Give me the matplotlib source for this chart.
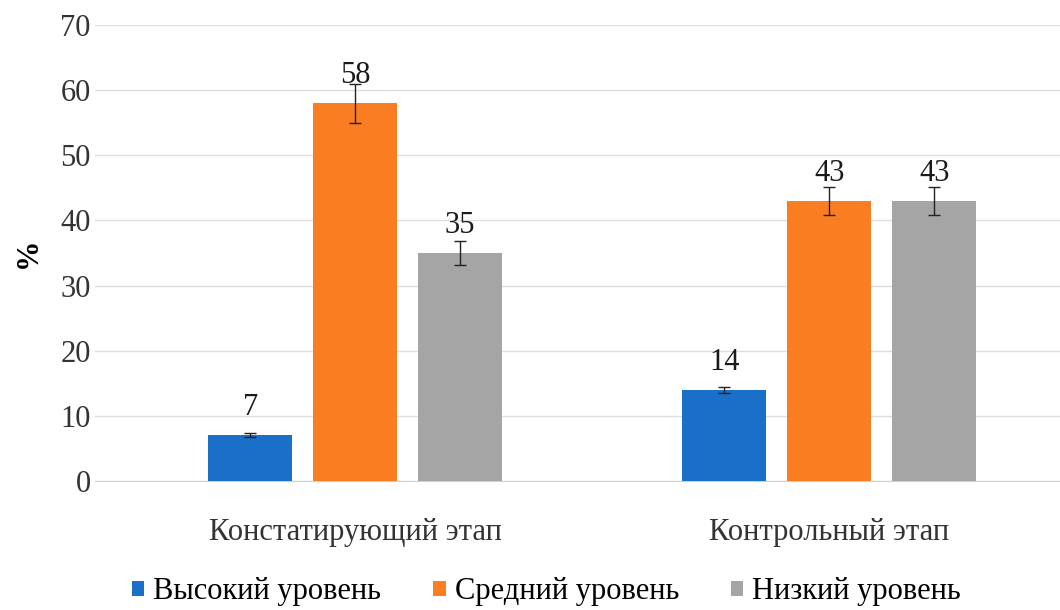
import numpy as np
from matplotlib import pyplot as plt

plt.rcParams['font.family'] = ['Liberation Serif', 'DejaVu Serif']

stages = ['Констатирующий этап', 'Контрольный этап']
levels = ['Высокий уровень', 'Средний уровень', 'Низкий уровень']
values = [[7, 14], [58, 43], [35, 43]]
errors = [[0.3, 0.5], [3.0, 2.2], [1.8, 2.2]]
colors = ['#1a6fc9', '#fb7d22', '#a5a5a5']

fig = plt.figure(figsize=(10.6, 6.1), dpi=100)
ax = fig.add_axes([0.0896, 0.2115, 0.9104, 0.7475])

x = np.arange(len(stages))
w = 0.177
step = 0.2215
for i in range(len(levels)):
    pos = x + (i - 1) * step
    ax.bar(pos, values[i], w, color=colors[i], label=levels[i], zorder=3,
           yerr=errors[i], capsize=4, error_kw=dict(ecolor='#222222', elinewidth=1, capthick=1, zorder=4))
    for p, v in zip(pos, values[i]):
        ax.text(p, v + 2.0, str(v), ha='center', va='bottom', fontsize=22, color='#1a1a1a', zorder=5)

ax.set_xlim(-0.549, 1.487)
ax.set_ylim(0, 70)
ax.set_yticks(range(0, 71, 10))
ax.set_xticks(x)
ax.set_xticklabels(stages)
ax.tick_params(axis='y', length=0, labelsize=22, colors='#333333', pad=3)
ax.tick_params(axis='x', length=0, labelsize=22, colors='#333333', pad=27)
ax.grid(axis='y', color='#dedede', linewidth=1, zorder=0)
for s in ['top', 'right', 'left']:
    ax.spines[s].set_visible(False)
ax.spines['bottom'].set_color('#d0d0d0')
ax.set_ylabel('%', fontsize=22, fontweight='bold', labelpad=13)

ax.legend(loc='center', bbox_to_anchor=(0.468, -0.243), ncol=3, frameon=False,
          fontsize=22, handlelength=0.4, handleheight=0.4, handletextpad=0.3, columnspacing=1.7)

fig.savefig('out.png', dpi=100)
